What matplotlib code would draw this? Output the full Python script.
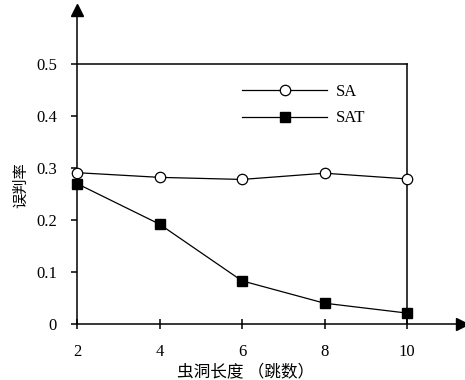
import matplotlib.pyplot as plt

plt.rcParams['font.family'] = ['Liberation Serif', 'Noto Sans CJK SC']

# 虫洞长度 (跳数)
hops = [2, 4, 6, 8, 10]
sa = [0.291, 0.282, 0.278, 0.290, 0.279]
sat = [0.270, 0.192, 0.083, 0.040, 0.021]
xticks = [2, 4, 6, 8, 10]
yticks = [0, 0.1, 0.2, 0.3, 0.4, 0.5]
ytick_labels = ['0', '0.1', '0.2', '0.3', '0.4', '0.5']

fig = plt.figure(figsize=(4.65, 3.8), dpi=100)
ax = fig.add_axes([77 / 465, 1 - 324 / 380, (462 - 77) / 465, 314 / 380])

ax.plot(hops, sa, color='black', lw=0.9, marker='o', ms=7.5,
        mfc='white', mec='black', mew=0.9, label='SA', clip_on=False, zorder=3)
ax.plot(hops, sat, color='black', lw=0.9, marker='s', ms=7,
        mfc='black', mec='black', label='SAT', clip_on=False, zorder=3)

# frame lines at 0.5 and x=10
ax.plot([2, 10], [0.5, 0.5], color='black', lw=1.1, zorder=1)
ax.plot([10, 10], [0, 0.5], color='black', lw=1.1, zorder=1)

ax.set_xlim(2, 2 + (462 - 77) / 41.25)
ax.set_ylim(0, 314 / 520)
ax.spines['top'].set_visible(False)
ax.spines['right'].set_visible(False)
for s in ['left', 'bottom']:
    ax.spines[s].set_linewidth(1.1)

# arrow heads
ax.plot(0, 1, marker='^', color='black', ms=8, transform=ax.transAxes, clip_on=False)
ax.plot(1, 0, marker='>', color='black', ms=8, transform=ax.transAxes, clip_on=False)

ax.set_xticks(xticks)
ax.set_yticks(yticks)
ax.set_yticklabels(ytick_labels)
ax.tick_params(axis='x', direction='inout', length=7.5, width=1.1, labelsize=12, pad=11)
ax.tick_params(axis='y', direction='out', length=4.5, width=1.1, labelsize=12, pad=10)

ax.set_xlabel('虫洞长度 （跳数）', fontsize=12)
ax.xaxis.set_label_coords(0.439, -0.127)
ax.set_ylabel('误判率', fontsize=11)
ax.yaxis.set_label_coords(-0.127, 0.443)

ax.legend(loc='upper left', bbox_to_anchor=(0.4286, 0.764), frameon=False,
          borderaxespad=0, borderpad=0, handlelength=5.1, handletextpad=0.56,
          labelspacing=0.62, fontsize=12)

fig.savefig('out.png', dpi=100)
